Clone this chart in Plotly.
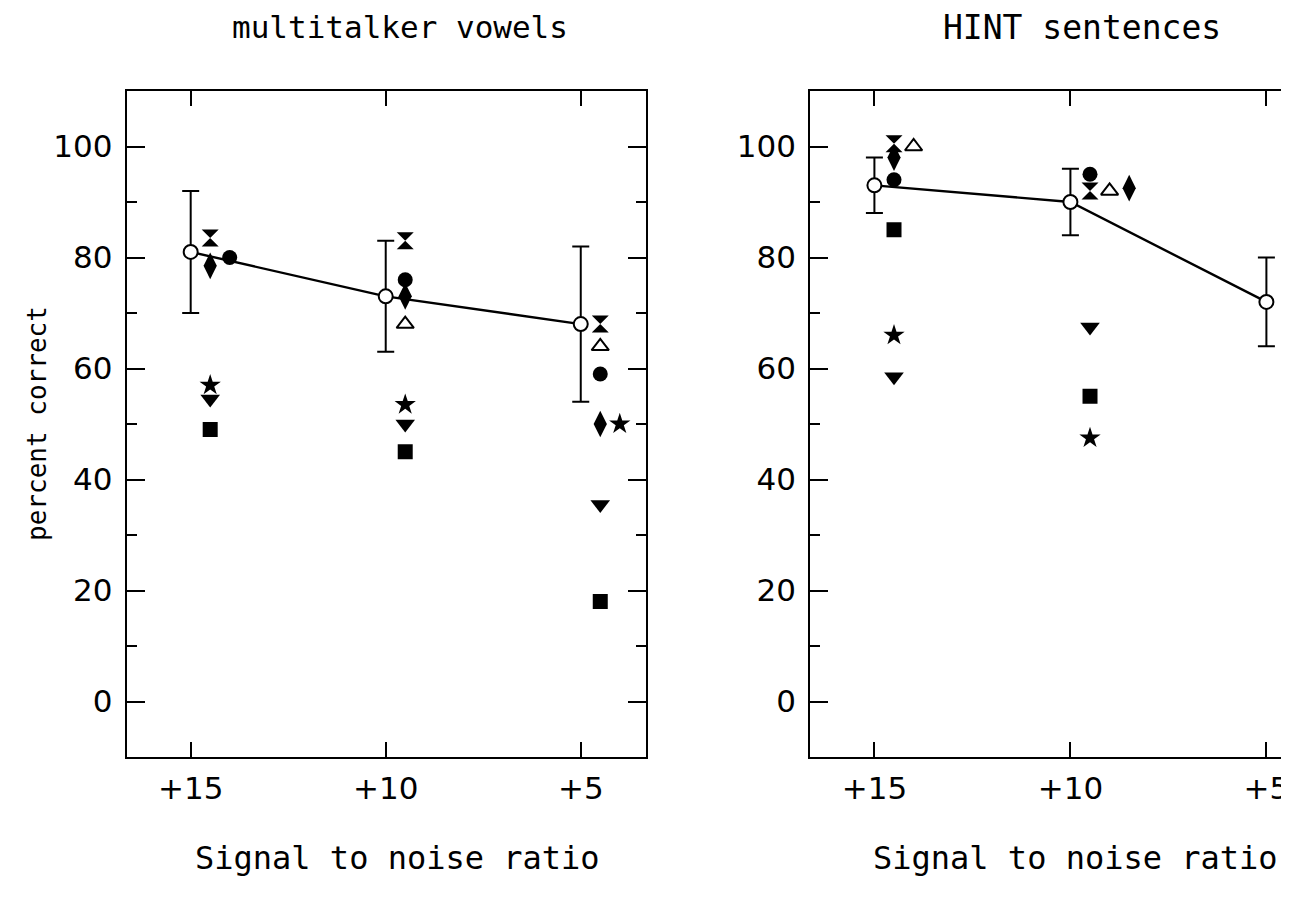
import plotly.graph_objects as go

# ---------------- data ----------------
snr = [15, 10, 5]
snr_labels = ["+15", "+10", "+5"]

# multitalker vowels (left panel)
vowels_mean = [81, 73, 68]
vowels_err = [11, 10, 14]
vowels_hourglass = [83.5, 83, 68]
vowels_circle = [80, 76, 59]
vowels_diamond = [78.5, 73, 50]
vowels_triup = [None, 68, 64]
vowels_star = [57, 53.5, 50]
vowels_tridown = [54.5, 50, 35.5]
vowels_square = [49, 45, 18]

# HINT sentences (right panel)
hint_mean = [93, 90, 72]
hint_err = [5, 6, 8]
hint_hourglass = [100.5, 92, None]
hint_circle = [94, 95, None]
hint_diamond = [98, 92.5, None]
hint_triup = [100, 92, None]
hint_star = [66, 47.5, None]
hint_tridown = [58.5, 67.5, None]
hint_square = [85, 55, None]

# horizontal displacement of individual symbols (in SNR dB, to the right)
vowels_shift = {"circle": [1.0, 0.5, 0.5], "star": [0.5, 0.5, 1.0]}
hint_shift = {"triup": [1.0, 1.0, 0.5], "diamond": [0.5, 1.5, 0.5]}

symbols = {
    "hourglass": ("hourglass", 17),
    "circle": ("circle", 15),
    "diamond": ("diamond-tall", 19),
    "triup": ("triangle-up-open", 15),
    "star": ("star", 16),
    "tridown": ("triangle-down", 17),
    "square": ("square", 15),
}

SANS = "DejaVu Sans"
MONO = "DejaVu Sans Mono"

fig = go.Figure()


def add_panel(xa, ya, mean, err, series, shifts):
    fig.add_trace(go.Scatter(
        x=snr, y=mean, mode="lines+markers", xaxis=xa, yaxis=ya,
        line=dict(color="black", width=2.4),
        marker=dict(symbol="circle", size=14, color="white",
                    line=dict(color="black", width=2)),
        error_y=dict(type="data", array=err, visible=True, color="black",
                     thickness=2, width=8.5),
        showlegend=False, cliponaxis=False,
    ))
    for name, vals in series.items():
        sh = shifts.get(name, [0.5, 0.5, 0.5])
        xs, ys = [], []
        for s, v, d in zip(snr, vals, sh):
            if v is None:
                continue
            xs.append(s - d)
            ys.append(v)
        sym, size = symbols[name]
        if name == "triup":
            mk = dict(symbol=sym, size=size, color="black",
                      line=dict(color="black", width=2))
        else:
            mk = dict(symbol=sym, size=size, color="black",
                      line=dict(color="black", width=0))
        fig.add_trace(go.Scatter(
            x=xs, y=ys, mode="markers", xaxis=xa, yaxis=ya, marker=mk,
            showlegend=False, cliponaxis=True,
        ))


add_panel("x", "y", vowels_mean, vowels_err, {
    "hourglass": vowels_hourglass, "circle": vowels_circle,
    "diamond": vowels_diamond, "triup": vowels_triup, "star": vowels_star,
    "tridown": vowels_tridown, "square": vowels_square}, vowels_shift)

add_panel("x2", "y2", hint_mean, hint_err, {
    "hourglass": hint_hourglass, "circle": hint_circle,
    "diamond": hint_diamond, "triup": hint_triup, "star": hint_star,
    "tridown": hint_tridown, "square": hint_square}, hint_shift)

# page offset of the plot div (browser body margin)
OFF = 8
W, H = 1281, 889


def px(xp):
    return (xp - OFF) / W


def py(yp):
    return 1 - (yp - OFF) / H


ydom = [py(757), py(91)]

xcommon = dict(
    tickvals=snr, ticktext=snr_labels, ticks="inside", ticklen=15,
    tickwidth=2, tickcolor="black", showline=True, linewidth=2,
    linecolor="black", mirror="ticks", showgrid=False, zeroline=False,
    tickfont=dict(family=SANS, size=31, color="black"),
    ticklabelstandoff=3, ticklabeloverflow="allow",
)
ycommon = dict(
    range=[-10, 110], tickvals=[0, 20, 40, 60, 80, 100], ticks="inside",
    ticklen=18, tickwidth=2, tickcolor="black", showline=True,
    linewidth=2, linecolor="black", showgrid=False, zeroline=False,
    tickfont=dict(family=SANS, size=31, color="black"),
    minor=dict(tickvals=[-10, 10, 30, 50, 70, 90, 110], ticks="inside",
               ticklen=10, tickwidth=2, tickcolor="black", showgrid=False),
    ticklabelstandoff=6,
)

fig.update_layout(
    width=W, height=H, margin=dict(l=0, r=0, t=0, b=0),
    paper_bgcolor="white", plot_bgcolor="white",
    xaxis=dict(domain=[px(127), px(647)], range=[16.64, 3.34], anchor="y",
               **xcommon),
    yaxis=dict(domain=ydom, anchor="x", mirror="ticks", **ycommon),
    xaxis2=dict(domain=[px(812), 1.0], range=[16.64, 4.5], anchor="y2",
                **xcommon),
    yaxis2=dict(domain=ydom, anchor="x2", mirror=False, **ycommon),
)

ann = [
    ("multitalker vowels", 401, 27, MONO, 31, 0),
    ("HINT sentences", 1085, 27, MONO, 33, 0),
    ("Signal to noise ratio", 398, 858, MONO, 32, 0),
    ("Signal to noise ratio", 1078, 858, MONO, 32, 0),
    ("percent correct", 37, 423, MONO, 26, -90),
]
for text, xp, yp, fam, size, ang in ann:
    fig.add_annotation(text=text, x=px(xp), y=py(yp), xref="paper",
                       yref="paper", xanchor="center", yanchor="middle",
                       showarrow=False, textangle=ang,
                       font=dict(family=fam, size=size, color="black"))

fig.write_html("out.html")
